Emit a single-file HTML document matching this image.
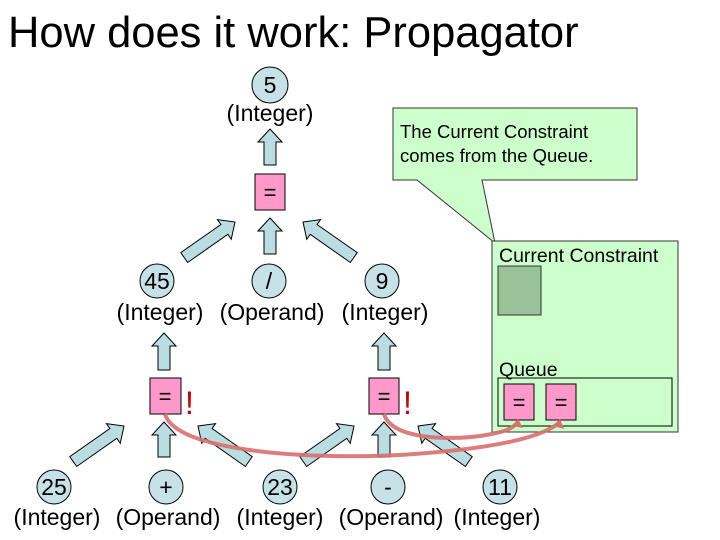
<!DOCTYPE html>
<html><head><meta charset="utf-8"><style>
html,body{margin:0;padding:0;background:#fff}
svg{display:block}
text{font-family:"Liberation Sans",sans-serif;fill:#000}
</style></head><body>
<svg width="720" height="540" viewBox="0 0 720 540">
<text x="8" y="47" font-size="43.5">How does it work: Propagator</text>

<!-- callout -->
<path d="M393,108 L637,108 L637,180 L482,180 L495,243 L417,180 L393,180 Z" fill="#ccffcc" stroke="#333" stroke-width="1"/>
<text x="400" y="138" font-size="18.5">The Current Constraint</text>
<text x="400" y="162" font-size="18.5">comes from the Queue.</text>

<!-- panel -->
<rect x="492" y="241" width="186" height="191" fill="#ccffcc" stroke="#333" stroke-width="1"/>
<text x="499" y="262" font-size="19.5">Current Constraint</text>
<rect x="498" y="266" width="43" height="49" fill="#99c299" stroke="#333" stroke-width="1"/>
<text x="499" y="376" font-size="19.5">Queue</text>
<rect x="498" y="378" width="174" height="48" fill="none" stroke="#000" stroke-width="1"/>
<rect x="504" y="384" width="30" height="36" fill="#ff99cc" stroke="#000"/>
<rect x="546" y="384" width="30" height="36" fill="#ff99cc" stroke="#000"/>
<text x="519" y="410" font-size="22" text-anchor="middle">=</text>
<text x="561" y="410" font-size="22" text-anchor="middle">=</text>

<g fill="#b9dde0" stroke="#000" stroke-width="1">
<polygon transform="translate(270,129)" points="0,0 12,13 6,13 6,36 -6,36 -6,13 -12,13"/>
<polygon transform="translate(270,218)" points="0,0 12,13 6,13 6,36 -6,36 -6,13 -12,13"/>
<polygon transform="translate(235,222) rotate(55)" points="0,0 12,13 6,13 6,62 -6,62 -6,13 -12,13"/>
<polygon transform="translate(303,222) rotate(-55)" points="0,0 12,13 6,13 6,62 -6,62 -6,13 -12,13"/>
<polygon transform="translate(164,333)" points="0,0 12,13 6,13 6,37 -6,37 -6,13 -12,13"/>
<polygon transform="translate(384,333)" points="0,0 12,13 6,13 6,37 -6,37 -6,13 -12,13"/>
<polygon transform="translate(164,422)" points="0,0 12,13 6,13 6,35 -6,35 -6,13 -12,13"/>
<polygon transform="translate(384,422)" points="0,0 12,13 6,13 6,35 -6,35 -6,13 -12,13"/>
<polygon transform="translate(124,426) rotate(55)" points="0,0 12,13 6,13 6,62 -6,62 -6,13 -12,13"/>
<polygon transform="translate(198,426) rotate(-55)" points="0,0 12,13 6,13 6,62 -6,62 -6,13 -12,13"/>
<polygon transform="translate(354,426) rotate(55)" points="0,0 12,13 6,13 6,62 -6,62 -6,13 -12,13"/>
<polygon transform="translate(418,426) rotate(-55)" points="0,0 12,13 6,13 6,62 -6,62 -6,13 -12,13"/>
</g>

<!-- boxes -->
<rect x="255" y="174" width="30" height="36" fill="#ff99cc" stroke="#000"/>
<text x="270" y="200" font-size="22" text-anchor="middle">=</text>
<rect x="150" y="378" width="31" height="36" fill="#ff99cc" stroke="#000"/>
<text x="165" y="404" font-size="22" text-anchor="middle">=</text>
<rect x="369" y="378" width="30" height="36" fill="#ff99cc" stroke="#000"/>
<text x="384" y="404" font-size="22" text-anchor="middle">=</text>
<text x="185" y="414" font-size="32" style="fill:#c00">!</text>
<text x="403" y="414" font-size="32" style="fill:#c00">!</text>

<!-- red curves -->
<g fill="none" stroke="#d9706f" stroke-width="4" opacity="0.9">
<path d="M165,414 C175,450 300,460 400,455 C480,450 540,440 560,422"/>
<path d="M384,414 C392,440 450,440 480,436 C500,433 512,430 518,422"/>
</g>
<polygon points="518,419 523,428 512,426" fill="#d9706f"/>
<polygon points="560,419 564,429 553,426" fill="#d9706f"/>

<!-- circles -->
<g fill="#c6e2e6" stroke="#000" stroke-width="1">
<circle cx="270" cy="85" r="18"/>
<circle cx="157" cy="281" r="17"/>
<circle cx="269" cy="281" r="17"/>
<circle cx="382" cy="281" r="17"/>
<circle cx="54" cy="487" r="17"/>
<circle cx="166" cy="487" r="17"/>
<circle cx="280" cy="487" r="17"/>
<circle cx="388" cy="487" r="17"/>
<circle cx="500" cy="487" r="17"/>
</g>
<g font-size="23" text-anchor="middle">
<text x="270" y="93">5</text>
<text x="270" y="121">(Integer)</text>
<text x="157" y="289">45</text>
<text x="269" y="289">/</text>
<text x="382" y="289">9</text>
<text x="160" y="320">(Integer)</text>
<text x="272" y="320">(Operand)</text>
<text x="385" y="320">(Integer)</text>
<text x="54" y="495">25</text>
<text x="166" y="495">+</text>
<text x="280" y="495">23</text>
<text x="388" y="495">-</text>
<text x="500" y="495">11</text>
<text x="57" y="525">(Integer)</text>
<text x="168" y="525">(Operand)</text>
<text x="280" y="525">(Integer)</text>
<text x="391" y="525">(Operand)</text>
<text x="497" y="525">(Integer)</text>
</g>
</svg>
</body></html>
